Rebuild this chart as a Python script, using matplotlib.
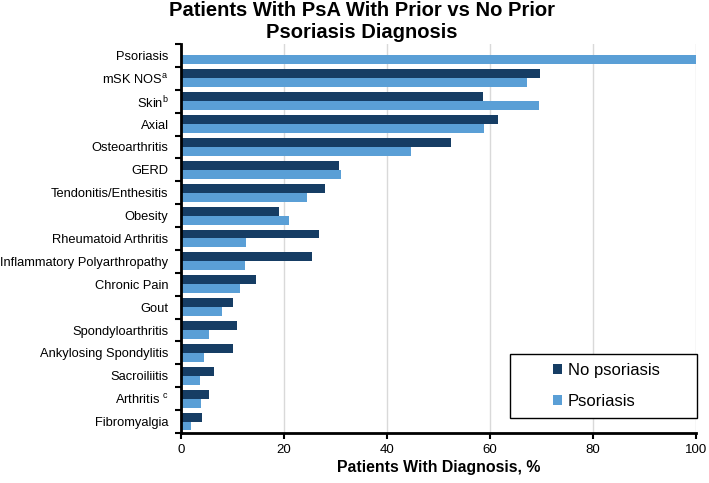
import numpy as np
import matplotlib.pyplot as plt
from matplotlib.patches import Rectangle

plt.rcParams['font.family'] = ['Liberation Sans', 'DejaVu Sans']
plt.rcParams['mathtext.fontset'] = 'custom'
plt.rcParams['mathtext.rm'] = 'Liberation Sans'
plt.rcParams['mathtext.it'] = 'Liberation Sans'

# data
categories = [
    'Psoriasis', 'mSK NOS$^{a}$', 'Skin$^{b}$', 'Axial', 'Osteoarthritis',
    'GERD', 'Tendonitis/Enthesitis', 'Obesity', 'Rheumatoid Arthritis',
    'Inflammatory Polyarthropathy', 'Chronic Pain', 'Gout',
    'Spondyloarthritis', 'Ankylosing Spondylitis', 'Sacroiliitis',
    'Arthritis $^{c}$', 'Fibromyalgia'
]
no_psoriasis = [0, 69.8, 58.6, 61.6, 52.4, 30.7, 28.0, 19.1, 26.7, 25.5,
                14.6, 10.0, 10.8, 10.0, 6.4, 5.4, 4.1]
psoriasis = [100, 67.1, 69.5, 58.9, 44.7, 31.1, 24.5, 20.9, 12.6, 12.4,
             11.5, 8.0, 5.5, 4.4, 3.6, 3.9, 2.0]
xticks = [0, 20, 40, 60, 80, 100]

dark = '#163d64'
light = '#5a9fd6'

W, H = 709, 483
fig = plt.figure(figsize=(W / 100, H / 100), dpi=100)
ax = fig.add_axes([181 / W, 50 / H, 515 / W, 389 / H])

y = np.arange(len(categories))
h = 0.39
ax.barh(y - h / 2, no_psoriasis, height=h, color=dark, label='No psoriasis', zorder=3)
ax.barh(y + h / 2, psoriasis, height=h, color=light, label='Psoriasis', zorder=3)

ax.set_ylim(len(categories) - 0.5, -0.5)
ax.set_xlim(0, 100)
ax.set_xticks(xticks)
ax.set_yticks(y)
ax.set_yticklabels(categories, fontsize=9.3)
ax.set_yticks(np.arange(len(categories) + 1) - 0.5, minor=True)
ax.tick_params(axis='y', which='major', length=0, pad=9)
ax.tick_params(axis='y', which='minor', length=4, width=1.5, direction='out')
ax.tick_params(axis='x', length=4, width=1.5, labelsize=9.5, pad=4)

ax.grid(axis='x', color='#d9d9d9', linewidth=1, zorder=0)
for s in ['top', 'right']:
    ax.spines[s].set_visible(False)
for s in ['left', 'bottom']:
    ax.spines[s].set_linewidth(2)
    ax.spines[s].set_zorder(4)

ax.set_xlabel('Patients With Diagnosis, %', fontsize=11.4, fontweight='bold', labelpad=3)
fig.suptitle('Patients With PsA With Prior vs No Prior\nPsoriasis Diagnosis',
             x=0.51, y=0.997, fontsize=14.5, fontweight='bold', linespacing=1.2)

# legend box is wider than its contents in the reference
box = Rectangle((510 / W, 1 - 418 / H), 187 / W, 64 / H, transform=fig.transFigure,
                facecolor='white', edgecolor='black', linewidth=1, zorder=5, clip_on=False)
ax.add_patch(box)
leg = ax.legend(loc='center', bbox_to_anchor=(606 / W, 1 - 386 / H),
                bbox_transform=fig.transFigure, fontsize=12, frameon=False,
                handlelength=0.55, handleheight=0.55, handletextpad=0.35,
                borderpad=0, labelspacing=0.95)
leg.set_zorder(6)

fig.savefig('out.png', dpi=100)
